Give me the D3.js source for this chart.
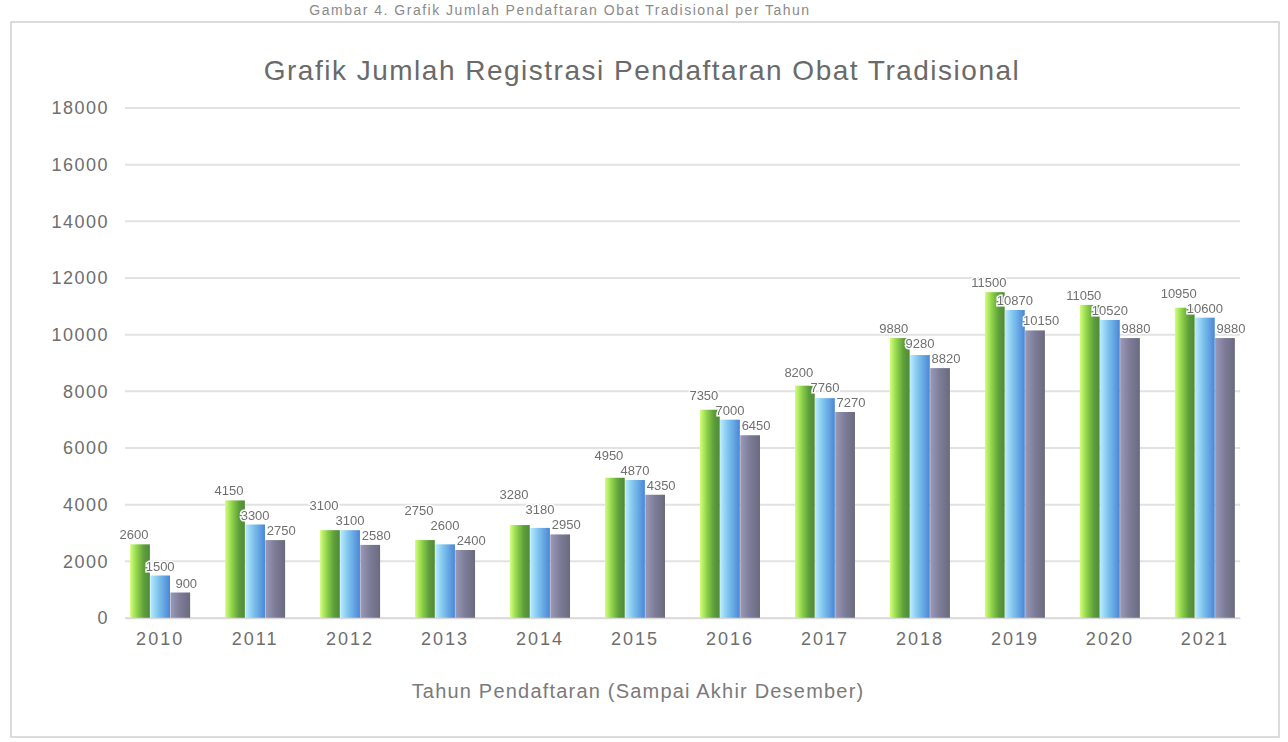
<!DOCTYPE html>
<html>
<head>
<meta charset="utf-8">
<script src="https://cdn.jsdelivr.net/npm/d3@7"></script>
<style>
  html, body { margin: 0; padding: 0; background: #ffffff; }
  svg { display: block; }
  text { font-family: "Liberation Sans", "DejaVu Sans", sans-serif; }
</style>
</head>
<body>
<svg id="chart" width="1288" height="742"></svg>
<script>
// ---- data ----
const categories = ["2010","2011","2012","2013","2014","2015","2016","2017","2018","2019","2020","2021"];
const seriesNames = ["Seri 1","Seri 2","Seri 3"];
const series1 = [2600, 4150, 3100, 2750, 3280, 4950, 7350, 8200, 9880, 11500, 11050, 10950];
const series2 = [1500, 3300, 3100, 2600, 3180, 4870, 7000, 7760, 9280, 10870, 10520, 10600];
const series3 = [ 900, 2750, 2580, 2400, 2950, 4350, 6450, 7270, 8820, 10150,  9880,  9880];
const yTicks = [0, 2000, 4000, 6000, 8000, 10000, 12000, 14000, 16000, 18000];
const chartTitle = "Grafik Jumlah Registrasi Pendaftaran Obat Tradisional";
const topCutTitle = "Gambar 4. Grafik Jumlah Pendaftaran Obat Tradisional per Tahun";
const xAxisTitle = "Tahun Pendaftaran (Sampai Akhir Desember)";

const allSeries = [series1, series2, series3];

const svg = d3.select("#chart");
const W = 1288, H = 742;
const margin = { left: 125, right: 48, top: 108, bottom: 124 };

// gradients
const defs = svg.append("defs");
const gradSpecs = [
  ["g0", [["0%","#d4ff7a"],["35%","#8ed24a"],["70%","#5e9e3c"],["100%","#4f8a36"]]],
  ["g1", [["0%","#b8ecff"],["40%","#7fc4ee"],["100%","#4a86d6"]]],
  ["g2", [["0%","#9a9ab8"],["50%","#7c7c98"],["100%","#6a6a7e"]]]
];
gradSpecs.forEach(([id, stops]) => {
  const g = defs.append("linearGradient").attr("id", id)
    .attr("x1","0%").attr("x2","100%").attr("y1","0%").attr("y2","0%");
  stops.forEach(([o,c]) => g.append("stop").attr("offset", o).attr("stop-color", c));
});
const halo = defs.append("filter").attr("id","blurText").attr("x","-20%").attr("y","-40%").attr("width","140%").attr("height","180%");
halo.append("feGaussianBlur").attr("stdDeviation", 0.5);

// frame
svg.append("rect").attr("x", 11).attr("y", 22).attr("width", W - 20).attr("height", H - 27)
  .attr("fill", "#ffffff").attr("stroke", "#d0d0d0").attr("stroke-width", 1.5);

// heading above the frame
svg.append("text").attr("x", 560).attr("y", 15).attr("text-anchor","middle")
  .attr("font-size", 14).attr("letter-spacing", 1.5).attr("fill", "#8a8a8a").text(topCutTitle);

// scales
const x = d3.scaleBand().domain(categories).range([margin.left, W - margin.right]).paddingInner(0.36).paddingOuter(0.05);
const xs = d3.scaleBand().domain(d3.range(3)).range([0, x.bandwidth()]).padding(0.02);
const y = d3.scaleLinear().domain([0, 18000]).range([H - margin.bottom, margin.top]);

// gridlines
svg.append("g").selectAll("line").data(yTicks).join("line")
  .attr("x1", margin.left).attr("x2", W - margin.right)
  .attr("y1", d => y(d)).attr("y2", d => y(d))
  .attr("stroke", "#e2e2e2").attr("stroke-width", 2);

// y axis
const yAxis = d3.axisLeft(y).tickValues(yTicks).tickSize(0).tickPadding(14).tickFormat(d3.format("d"));
const yg = svg.append("g").attr("transform", `translate(${margin.left - 2},0)`).call(yAxis);
yg.select(".domain").remove();
yg.selectAll("text").attr("font-size", 18).attr("letter-spacing", 1.5).attr("fill", "#6e6e6e");

// bars
const groups = svg.append("g").selectAll("g").data(categories).join("g")
  .attr("transform", d => `translate(${x(d)},0)`);
groups.selectAll("rect").data((c, i) => allSeries.map((s, k) => ({ k, v: s[i] }))).join("rect")
  .attr("x", d => xs(d.k)).attr("width", xs.bandwidth())
  .attr("y", d => y(d.v)).attr("height", d => y(0) - y(d.v))
  .attr("fill", d => `url(#g${d.k})`);

// data labels, stacked upward from the rightmost bar so they never collide
function labelData(i) {
  const out = allSeries.map((s, k) => ({ k, v: s[i] }));
  let prev = Infinity;
  for (let k = out.length - 1; k >= 0; k--) {
    const ly = Math.min(y(out[k].v) - 5, prev - 15);
    out[k].ly = ly;
    prev = ly;
  }
  return out;
}
const fmt = d3.format("d");
groups.selectAll("text.lbl").data((c, i) => labelData(i)).join("text")
  .attr("class","lbl")
  .attr("x", d => xs(d.k) + xs.bandwidth() / 2 + (d.k - 1) * 6)
  .attr("y", d => d.ly)
  .attr("text-anchor","middle").attr("font-size", 13).attr("fill", "#707070")
  .attr("stroke", "#ffffff").attr("stroke-width", 3).attr("paint-order", "stroke")
  .attr("filter", "url(#blurText)")
  .text(d => fmt(d.v));

// x axis
const xAxis = d3.axisBottom(x).tickSize(0).tickPadding(14);
const xg = svg.append("g").attr("transform", `translate(0,${y(0)})`).call(xAxis);
xg.select(".domain").attr("stroke", "#d9d9d9").attr("stroke-width", 1.5);
xg.selectAll("text").attr("font-size", 18).attr("letter-spacing", 2).attr("fill", "#6e6e6e");

// title
svg.append("text").attr("x", 642).attr("y", 80).attr("text-anchor","middle")
  .attr("font-size", 28).attr("letter-spacing", 1.5).attr("fill", "#6a6a6a").text(chartTitle);

// x axis title
svg.append("text").attr("x", 638).attr("y", 698).attr("text-anchor","middle")
  .attr("font-size", 20).attr("letter-spacing", 1.2).attr("fill", "#7a7a7a").text(xAxisTitle);
</script>
</body>
</html>
